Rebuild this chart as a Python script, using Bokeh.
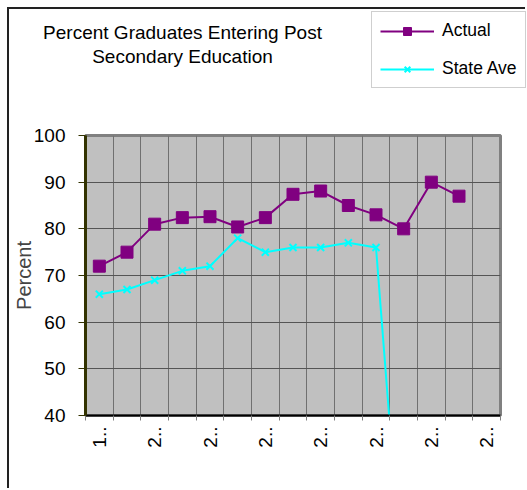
import math
from bokeh.plotting import figure
from bokeh.layouts import column
from bokeh.models import FixedTicker, Legend, LegendItem, Label, Range1d
from bokeh.embed import file_html
from bokeh.resources import INLINE

nan = float("nan")

title_lines = ["Percent Graduates Entering Post", "Secondary Education"]
y_label = "Percent"
series_names = ["Actual", "State Ave"]
n_categories = 15
# category labels as shown (truncated), one per category
categories = ["1..", "2..", "2..", "2..", "2..", "2..", "2..", "2..",
              "2..", "2..", "2..", "2..", "2..", "2..", "2.."]
actual = [72, 75, 81, 82.4, 82.6, 80.4, 82.4, 87.4, 88.1, 85, 83, 80, 90, 87, nan]
state_ave = [66, 67, 69, 71, 72, 78, 75, 76, 76, 77, 76, 0, nan, nan, nan]
y_ticks = [40, 50, 60, 70, 80, 90, 100]

FONT = "Liberation Sans"
C_ACT = "#800080"
C_ST = "#00FFFF"

xs = [i + 0.5 for i in range(n_categories)]
label_pos = xs[::2]

# ---------- header (title + legend) ----------
# the header's ranges lie outside the data, so the series drawn here only
# feed the legend's glyphs and are not visible themselves
top = figure(width=518, height=117, x_range=Range1d(-2, -1), y_range=Range1d(-2, -1),
             x_axis_type=None, y_axis_type=None, min_border=0,
             output_backend="svg", toolbar_location=None)
top.frame_align = False
top.grid.visible = False
top.outline_line_color = None
top.background_fill_color = "white"
top.border_fill_color = "white"
top.styles = {"border-left": "2px solid #222222", "border-top": "2px solid #222222"}

for txt, yy in zip(title_lines, [94, 70]):
    top.add_layout(Label(x=173, y=yy, x_units="screen", y_units="screen", text=txt,
                         text_align="center", text_baseline="alphabetic",
                         text_font=FONT, text_font_size="19px", text_color="black"))

lg1 = top.line(xs, actual, line_color=C_ACT, line_width=2)
lg1m = top.scatter(xs, actual, marker="square", size=8, fill_color=C_ACT, line_color=C_ACT)
lg2 = top.line(xs, state_ave, line_color=C_ST, line_width=2)
lg2m = top.scatter(xs, state_ave, marker="x", size=8, line_color=C_ST, line_width=2)

legend = Legend(items=[LegendItem(label=series_names[0], renderers=[lg1, lg1m]),
                       LegendItem(label=series_names[1], renderers=[lg2, lg2m])],
                location=(362, 38), orientation="vertical")
legend.label_text_font = FONT
legend.label_text_font_size = "17.5px"
legend.label_text_color = "black"
legend.border_line_color = "#A0A0A0"
legend.border_line_width = 1
legend.background_fill_alpha = 1
legend.padding = 8
legend.spacing = 17
legend.glyph_width = 54
legend.glyph_height = 20
legend.label_height = 20
legend.label_standoff = 8
legend.margin = 0
top.add_layout(legend, "center")

# ---------- main chart ----------
p = figure(frame_width=413, frame_height=280,
           min_border_left=74, min_border_top=11, min_border_right=31, min_border_bottom=73,
           x_range=Range1d(0, n_categories), y_range=Range1d(40, 100),
           output_backend="svg", toolbar_location=None)
p.frame_align = False
p.styles = {"border-left": "2px solid #222222"}

p.background_fill_color = "#C0C0C0"
p.border_fill_color = "white"
p.outline_line_color = "#808080"
p.outline_line_width = 3

p.xgrid.ticker = FixedTicker(ticks=list(range(n_categories + 1)))
p.xgrid.grid_line_color = "#707070"
p.xgrid.grid_line_width = 1
p.ygrid.ticker = FixedTicker(ticks=y_ticks)
p.ygrid.grid_line_color = "#555555"
p.ygrid.grid_line_width = 1

p.xaxis.ticker = FixedTicker(ticks=label_pos, minor_ticks=list(range(n_categories + 1)))
p.xaxis.major_label_overrides = {x: categories[i * 2] for i, x in enumerate(label_pos)}
p.xaxis.major_tick_out = 0
p.xaxis.major_tick_in = 0
p.xaxis.minor_tick_out = 5
p.xaxis.minor_tick_in = 0
p.xaxis.minor_tick_line_color = "#808080"
p.xaxis.axis_line_color = "black"
p.xaxis.axis_line_width = 2
p.xaxis.major_label_orientation = math.pi / 2
p.xaxis.major_label_text_font = FONT
p.xaxis.major_label_text_font_size = "19px"
p.xaxis.major_label_text_color = "black"
p.xaxis.major_label_standoff = 6

p.yaxis.ticker = FixedTicker(ticks=y_ticks)
p.yaxis.major_tick_out = 7
p.yaxis.major_tick_in = 0
p.yaxis.minor_tick_line_color = None
p.yaxis.axis_line_color = "#333300"
p.yaxis.axis_line_width = 3
p.yaxis.major_tick_line_color = "#333300"
p.yaxis.major_label_text_font = FONT
p.yaxis.major_label_text_font_size = "19px"
p.yaxis.major_label_text_color = "black"
p.yaxis.major_label_standoff = 13
p.yaxis.axis_label = y_label
p.yaxis.axis_label_text_font = FONT
p.yaxis.axis_label_text_font_size = "20px"
p.yaxis.axis_label_text_font_style = "normal"
p.yaxis.axis_label_standoff = -4

p.line(xs, actual, line_color=C_ACT, line_width=2)
p.scatter(xs, actual, marker="square", size=12, fill_color=C_ACT, line_color=C_ACT)
p.line(xs, state_ave, line_color=C_ST, line_width=2)
p.scatter(xs, state_ave, marker="x", size=10, line_color=C_ST, line_width=2)

layout = column(top, p, spacing=0, styles={"padding-left": "7px", "padding-top": "7px"})
open("out.html", "w").write(file_html(layout, INLINE))
